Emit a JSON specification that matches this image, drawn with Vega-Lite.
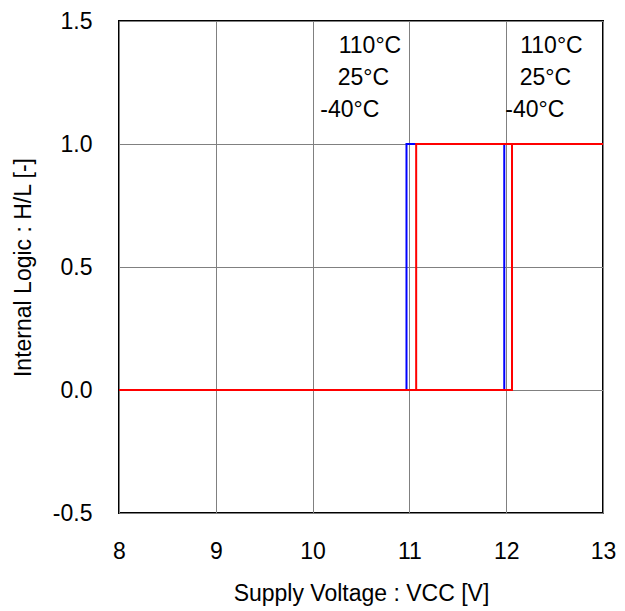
{
  "$schema": "https://vega.github.io/schema/vega-lite/v6.json",
  "width": 484,
  "height": 492,
  "autosize": "none",
  "padding": {"left": 119, "top": 21, "right": 22, "bottom": 98},
  "background": "white",
  "config": {
    "font": "Liberation Sans",
    "view": {"stroke": "black", "strokeWidth": 2},
    "axis": {
      "labelFont": "Liberation Sans",
      "titleFont": "Liberation Sans",
      "labelFontSize": 23,
      "titleFontSize": 23,
      "labelColor": "black",
      "titleColor": "black",
      "titleFontWeight": "normal",
      "ticks": false,
      "domain": false,
      "grid": true,
      "gridColor": "#808080",
      "gridWidth": 1,
      "gridOpacity": 1,
      "labelPadding": 27,
      "labelFlush": false,
      "labelOverlap": false
    }
  },
  "datasets": {
    "lines": [
      {"series": "-40°C", "ord": 1, "v": 8, "logic": 0},
      {"series": "-40°C", "ord": 2, "v": 11.98, "logic": 0},
      {"series": "-40°C", "ord": 3, "v": 11.98, "logic": 1},
      {"series": "-40°C", "ord": 4, "v": 13, "logic": 1},
      {"series": "-40°C", "ord": 5, "v": 10.97, "logic": 1},
      {"series": "-40°C", "ord": 6, "v": 10.97, "logic": 0},
      {"series": "-40°C", "ord": 7, "v": 8, "logic": 0},
      {"series": "110°C", "ord": 1, "v": 8, "logic": 0},
      {"series": "110°C", "ord": 2, "v": 12.06, "logic": 0},
      {"series": "110°C", "ord": 3, "v": 12.06, "logic": 1},
      {"series": "110°C", "ord": 4, "v": 13, "logic": 1},
      {"series": "110°C", "ord": 5, "v": 11.07, "logic": 1},
      {"series": "110°C", "ord": 6, "v": 11.07, "logic": 0},
      {"series": "110°C", "ord": 7, "v": 8, "logic": 0}
    ],
    "labels": [
      {"label": "110°C", "v": 10.27, "logic": 1.398},
      {"label": "25°C", "v": 10.26, "logic": 1.267},
      {"label": "-40°C", "v": 10.08, "logic": 1.139},
      {"label": "110°C", "v": 12.145, "logic": 1.398},
      {"label": "25°C", "v": 12.14, "logic": 1.267},
      {"label": "-40°C", "v": 11.99, "logic": 1.139}
    ]
  },
  "layer": [
    {
      "data": {"name": "lines"},
      "mark": {"type": "line", "strokeWidth": 2, "clip": true},
      "encoding": {
        "x": {
          "field": "v", "type": "quantitative",
          "scale": {"domain": [8, 13], "nice": false, "zero": false},
          "axis": {
            "values": [8, 9, 10, 11, 12, 13],
            "format": "d",
            "title": "Supply Voltage : VCC [V]",
            "titleX": 242, "titleY": 80,
            "titleBaseline": "middle", "titleAlign": "center"
          }
        },
        "y": {
          "field": "logic", "type": "quantitative",
          "scale": {"domain": [-0.5, 1.5], "nice": false, "zero": false},
          "axis": {
            "values": [-0.5, 0, 0.5, 1, 1.5],
            "labelExpr": "replace(format(datum.value, '.1f'), '\u2212', '-')",
            "title": "Internal Logic : H/L [-]",
            "titleX": -96, "titleY": 246,
            "titleAngle": -90,
            "titleBaseline": "middle", "titleAlign": "center"
          }
        },
        "order": {"field": "ord", "type": "quantitative"},
        "color": {
          "field": "series", "type": "nominal",
          "scale": {"domain": ["-40°C", "110°C"], "range": ["#0000ff", "#ff0000"]},
          "legend": null
        }
      }
    },
    {
      "data": {"name": "labels"},
      "mark": {"type": "text", "align": "left", "baseline": "middle", "fontSize": 23, "font": "Liberation Sans", "color": "black"},
      "encoding": {
        "x": {"field": "v", "type": "quantitative"},
        "y": {"field": "logic", "type": "quantitative"},
        "text": {"field": "label"}
      }
    }
  ]
}
